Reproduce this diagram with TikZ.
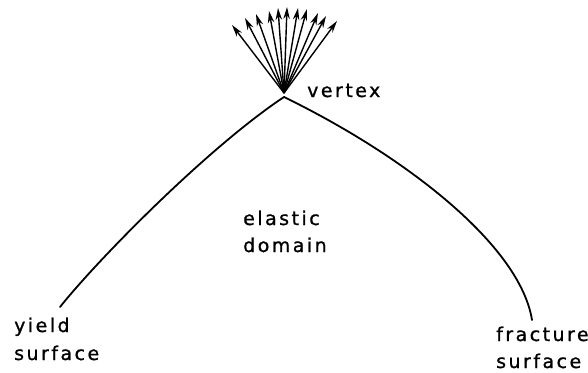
\documentclass[tikz,border=0pt]{standalone}
\usepackage{fontspec}
\newfontfamily\lblfont[LetterSpace=13,FakeBold=1]{DejaVu Sans}
\usetikzlibrary{arrows.meta}
\tikzset{
  surf/.style={line width=1.8pt, line cap=round},
  ray/.style={line width=1.4pt, -{Stealth[length=12pt,width=6.5pt]}},
  lbl/.style={font=\lblfont\fontsize{19}{20}\selectfont, inner sep=0pt, anchor=base west}
}
\begin{document}
\begin{tikzpicture}[x=1pt,y=-1pt]
\useasboundingbox (0,0) rectangle (588,372);
\coordinate (v) at (284,97);
\coordinate (o) at (284,93);
\coordinate (ye) at (60,307);
\coordinate (fe) at (532,320);
\draw[surf] (v) .. controls (210,146) and (100,257) .. (ye);
\draw[surf] (v) .. controls (405,156) and (520,245) .. (fe);
\foreach \i/\x/\y in {1/232/25,2/245/18,3/256/14,4/269/11,5/278/8,6/287/7,7/298/8,8/307/9,9/318/13,10/326/16,11/337/21}{
  \coordinate (t\i) at (\x,\y);
  \draw[ray] (o) -- (t\i);
}
\node[lbl] (vx) at (307,97) {vertex};
\node[lbl] (el) at (243,225) {elastic};
\node[lbl] (dm) at (243,252) {domain};
\node[lbl] (y1) at (14,332) {yield};
\node[lbl] (y2) at (14,360) {surface};
\node[lbl] (f1) at (496,341) {fracture};
\node[lbl] (f2) at (496,368) {surface};
\end{tikzpicture}
\end{document}
